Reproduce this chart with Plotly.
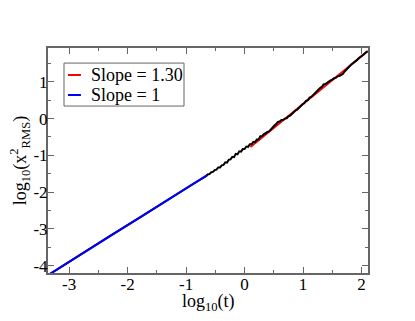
import plotly.graph_objects as go

# measured curve, log10(t) vs log10(x^2_RMS)
t_log = [-3.36, -2.80, -2.30, -1.80, -1.30, -0.90,
         -0.66, -0.63, -0.60, -0.57, -0.54, -0.51, -0.48, -0.45, -0.42, -0.39,
         -0.36, -0.33, -0.30, -0.27, -0.24, -0.21, -0.18, -0.15, -0.12, -0.09,
         -0.06, -0.03, 0.00, 0.03, 0.06, 0.09, 0.12, 0.15, 0.18, 0.21,
         0.24, 0.27, 0.30, 0.33, 0.36, 0.39, 0.42, 0.45, 0.48, 0.51,
         0.54, 0.57, 0.60, 0.63, 0.66, 0.69, 0.72, 0.75, 0.78, 0.81,
         0.84, 0.87, 0.90, 0.93, 0.96, 0.99, 1.02, 1.05, 1.08, 1.11,
         1.14, 1.17, 1.20, 1.23, 1.26, 1.29, 1.32, 1.35, 1.38, 1.41,
         1.44, 1.47, 1.50, 1.53, 1.56, 1.59, 1.62, 1.65, 1.68, 1.71,
         1.74, 1.77, 1.80, 1.83, 1.86, 1.89, 1.92, 1.95, 1.98, 2.01,
         2.04, 2.07, 2.10]
x2_log = [-4.26, -3.69, -3.19, -2.70, -2.19, -1.80,
          -1.57, -1.52, -1.51, -1.46, -1.45, -1.40, -1.39, -1.33, -1.33, -1.27,
          -1.26, -1.19, -1.20, -1.12, -1.11, -1.04, -1.05, -0.96, -0.97, -0.89,
          -0.90, -0.83, -0.83, -0.76, -0.77, -0.70, -0.70, -0.63, -0.64, -0.57,
          -0.57, -0.48, -0.48, -0.42, -0.40, -0.36, -0.35, -0.29, -0.26, -0.19,
          -0.15, -0.09, -0.08, -0.04, -0.04, 0.00, 0.01, 0.06, 0.08, 0.13,
          0.16, 0.22, 0.24, 0.30, 0.33, 0.39, 0.42, 0.48, 0.50, 0.57,
          0.59, 0.64, 0.67, 0.74, 0.77, 0.83, 0.86, 0.93, 0.94, 0.98,
          1.00, 1.04, 1.06, 1.10, 1.11, 1.15, 1.16, 1.19, 1.21, 1.28,
          1.34, 1.40, 1.43, 1.48, 1.51, 1.56, 1.59, 1.64, 1.67, 1.72,
          1.75, 1.80, 1.83]

# fitted lines (end points)
fit_t = [0.10, 2.11]
fit_y = [-0.77, 1.84]
short_t = [-3.36, -0.64]
short_y = [-4.26, -1.54]

legend_names = ['Slope = 1.30', 'Slope = 1']
legend_colors = ['#ff0000', '#0000ff']

x_ticks = [-3, -2, -1, 0, 1, 2]
x_labels = ['-3', '-2', '-1', '0', '1', '2']
y_ticks = [-4, -3, -2, -1, 0, 1]
y_labels = ['-4', '-3', '-2', '-1', '0', '1']

serif = 'Liberation Serif, Times New Roman, serif'
frame = '#666666'

fig = go.Figure()
fig.add_trace(go.Scatter(x=fit_t, y=fit_y, mode='lines', name=legend_names[0],
                         line=dict(color=legend_colors[0], width=2)))
fig.add_trace(go.Scatter(x=t_log, y=x2_log, mode='lines',
                         line=dict(color='black', width=2)))
fig.add_trace(go.Scatter(x=short_t, y=short_y, mode='lines', name=legend_names[1],
                         line=dict(color=legend_colors[1], width=2)))

axis_common = dict(showgrid=False, zeroline=False, showline=True, mirror='ticks',
                   linecolor=frame, linewidth=2, ticks='inside', ticklen=6,
                   tickwidth=1, tickcolor=frame, automargin=False,
                   ticklabelstandoff=-5,
                   tickfont=dict(family=serif, size=17, color='black'))

# hand-drawn legend box like the original
shapes = [dict(type='rect', xref='paper', yref='paper', x0=0.05, x1=0.425,
               y0=0.742, y1=0.933, line=dict(color=frame, width=1),
               fillcolor='white', layer='above')]
annotations = []
for i, (name, col) in enumerate(zip(legend_names, legend_colors)):
    yy = 0.88 - i * 0.089
    shapes.append(dict(type='line', xref='paper', yref='paper', x0=0.0625, x1=0.103,
                       y0=yy, y1=yy, line=dict(color=col, width=2), layer='above'))
    annotations.append(dict(text=name, xref='paper', yref='paper', x=0.128, y=yy,
                            xanchor='left', yanchor='middle', showarrow=False,
                            font=dict(family=serif, size=18, color='black')))

annotations += [
    dict(text='log<sub>10</sub>(t)', xref='paper', yref='paper',
         x=0.5, y=-0.13, xanchor='center', yanchor='middle',
         showarrow=False, font=dict(family=serif, size=18)),
    dict(text='log<sub>10</sub>(x<sup>2</sup><sub>RMS</sub>)', xref='paper', yref='paper',
         x=-0.088, y=0.5, xanchor='center', yanchor='middle', textangle=-90,
         showarrow=False, font=dict(family=serif, size=18)),
]

# page body has an 8px margin, so the figure is shrunk by that much
fig.update_layout(
    width=407, height=313,
    margin=dict(l=40, r=47, t=40, b=48),
    paper_bgcolor='white', plot_bgcolor='white',
    font=dict(family=serif, size=18, color='black'),
    showlegend=False,
    xaxis=dict(range=[-3.36, 2.11], tickvals=x_ticks, ticktext=x_labels,
               minor=dict(dtick=0.5, ticks='inside', ticklen=3, tickcolor=frame),
               **axis_common),
    yaxis=dict(range=[-4.2, 1.92], tickvals=y_ticks, ticktext=y_labels,
               minor=dict(dtick=0.5, ticks='inside', ticklen=3, tickcolor=frame),
               **axis_common),
    shapes=shapes,
    annotations=annotations,
)

fig.write_html("out.html")
